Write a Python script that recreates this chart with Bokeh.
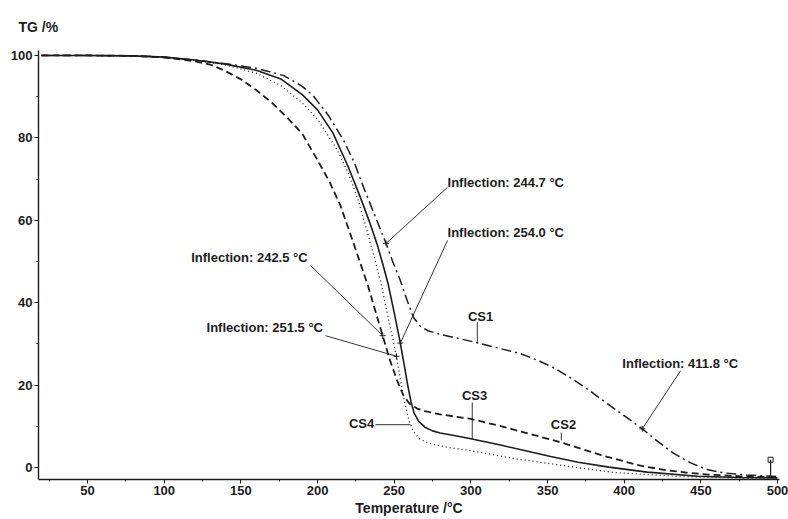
from bokeh.plotting import figure
from bokeh.models import Range1d, FixedTicker, ColumnDataSource
from bokeh.core.properties import value
from bokeh.embed import file_html
from bokeh.resources import INLINE

# ---------------- data ----------------
cs1_t = [20, 50, 80, 100, 120, 140, 160, 178, 190, 197, 207, 217, 224, 230, 237, 244.7, 249, 254, 258,
         262.6, 267, 272, 280, 290, 304, 320, 332, 345, 355, 365, 377, 389, 400, 411.8, 422, 432, 443,
         454, 465, 480, 500]
cs1_tg = [100, 100, 99.9, 99.6, 98.9, 98.0, 96.9, 95.1, 92.5, 90.3, 85.5, 79.4, 74, 68, 61.5, 54.4, 50,
          45.4, 41, 36.4, 34.3, 33.2, 32.3, 31.5, 30.3, 28.8, 27.7, 25.8, 24, 21.8, 18.8, 15.5, 12.6, 9.4,
          6.3, 3.5, 1.2, -0.5, -1.3, -1.8, -2.2]

cs2_t = [20, 50, 80, 100, 120, 130, 140, 150, 160, 170, 180, 190, 200, 208, 215, 222, 228, 233, 238,
         242.5, 247, 252, 256, 260, 265, 270, 280, 300, 320, 340, 356, 370, 385, 400, 410, 425, 440, 455,
         475, 500]
cs2_tg = [100, 100, 99.9, 99.5, 98.6, 97.8, 96.2, 94.2, 91.6, 88.6, 85.0, 81.0, 74.6, 69.2, 63.5, 56,
          49.5, 44, 37.6, 32.0, 26.3, 21, 17.5, 15.5, 14.3, 13.7, 12.9, 11.8, 10, 8, 6.4, 4.8, 3, 1.5,
          0.5, -0.5, -1.2, -1.7, -2.1, -2.4]

cs3_t = [20, 50, 80, 100, 120, 140, 160, 176, 190, 200, 210, 220, 228, 234, 239, 243, 246, 250, 254,
         257, 259, 261, 263, 266, 270, 275, 280, 290, 300, 320, 340, 352, 370, 390, 415, 448, 475, 500]
cs3_tg = [100, 100, 99.9, 99.6, 98.9, 97.9, 96.4, 94.3, 90.5, 86.8, 81.2, 73, 65.5, 59.5, 54.0, 48.8,
          44.6, 37.6, 30.2, 23.9, 19.6, 15.9, 13.2, 11.2, 9.8, 8.9, 8.4, 7.7, 7.0, 5.4, 3.7, 2.7, 1.3, 0.1,
          -1.1, -2.1, -2.4, -2.5]

cs4_t = [20, 50, 80, 100, 120, 140, 160, 176, 190, 200, 213, 220, 226, 233, 237, 241, 246, 251.5, 254,
         257, 260, 263, 267, 275, 285, 300, 328, 360, 393, 437, 470, 500]
cs4_tg = [100, 100, 99.9, 99.6, 98.9, 97.7, 95.7, 92.7, 88.5, 84.5, 77, 71.5, 65.5, 56.5, 51, 45.4,
          36.5, 27, 21.5, 15.5, 11, 8.5, 6.8, 5.6, 4.9, 4.1, 2.2, 0.5, -1.2, -2.2, -2.5, -2.6]

x_ticks = [50, 100, 150, 200, 250, 300, 350, 400, 450, 500]
x_minor = [25, 75, 125, 175, 225, 275, 325, 375, 425, 475]
y_ticks = [0, 20, 40, 60, 80, 100]
y_minor = [10, 30, 50, 70, 90]

ann_text = ["Inflection: 244.7 °C", "Inflection: 254.0 °C", "Inflection: 242.5 °C",
            "Inflection: 251.5 °C", "Inflection: 411.8 °C"]
ann_t = [284.8, 284.8, 117.6, 127.6, 398.8]
ann_tg = [69.2, 57.0, 51.0, 34.1, 25.2]
infl_t = [244.7, 254.0, 242.5, 251.5, 411.8]
infl_tg = [54.4, 30.2, 32.0, 27.0, 9.4]
lead_t = [284.8, 284.8, 195.5, 205.2, 436.8]
lead_tg = [68.0, 55.1, 49.0, 32.0, 23.5]

lab_text = ["CS1", "CS3", "CS2", "CS4"]
lab_t = [306.3, 302.4, 360.4, 228.7]
lab_tg = [36.7, 17.6, 10.4, 10.6]
lab_l_t0 = [304.2, 300.9, 359.0, 237.8]
lab_l_tg0 = [35.3, 15.8, 8.5, 10.4]
lab_l_t1 = [304.2, 300.9, 359.0, 260.7]
lab_l_tg1 = [30.3, 7.0, 6.6, 10.4]

end_t = [495.5]
end_tg0 = [-2.5]
end_tg1 = [1.9]

# ---------------- figure ----------------
INK = "#1c1c1c"
FONT = "Liberation Sans"

p = figure(width=788, height=519, x_range=Range1d(18, 501.3), y_range=Range1d(-2.9, 101.2),
           output_backend="svg", toolbar_location=None,
           min_border_left=38, min_border_right=9, min_border_top=50, min_border_bottom=40)
p.grid.visible = False
p.outline_line_color = None

p.title.text = "TG /%"
p.title.align = "left"
p.title.offset = -20
p.title.standoff = 32
p.title.text_font = FONT
p.title.text_font_style = "bold"
p.title.text_font_size = "14px"
p.title.text_color = INK

for ax in (p.xaxis[0], p.yaxis[0]):
    ax.axis_line_color = INK
    ax.axis_line_width = 1.4
    ax.major_tick_line_color = INK
    ax.minor_tick_line_color = INK
    ax.major_tick_in = 0
    ax.major_tick_out = 4
    ax.minor_tick_in = 0
    ax.minor_tick_out = 2
    ax.major_label_text_font = FONT
    ax.major_label_text_font_style = "bold"
    ax.major_label_text_font_size = "13px"
    ax.major_label_text_color = INK
    ax.major_label_standoff = 2

p.xaxis.ticker = FixedTicker(ticks=x_ticks, minor_ticks=x_minor)
p.yaxis.ticker = FixedTicker(ticks=y_ticks, minor_ticks=y_minor)
p.xaxis.axis_label = "Temperature /°C"
p.xaxis.axis_label_standoff = 2
p.xaxis.axis_label_text_font = FONT
p.xaxis.axis_label_text_font_style = "bold"
p.xaxis.axis_label_text_font_size = "14px"
p.xaxis.axis_label_text_color = INK

# curves
p.line(cs1_t, cs1_tg, line_color=INK, line_width=1.5, line_dash="10 4 2 4")
p.line(cs2_t, cs2_tg, line_color=INK, line_width=1.8, line_dash="7 4")
p.line(cs3_t, cs3_tg, line_color=INK, line_width=1.6)
p.line(cs4_t, cs4_tg, line_color=INK, line_width=1.3, line_dash="1 3")

# end marker
p.segment(x0=end_t, y0=end_tg0, x1=end_t, y1=end_tg1, line_color=INK, line_width=1.2)
p.scatter(x=end_t, y=end_tg1, marker="square", size=5, fill_color=None, line_color=INK, line_width=1)

# inflection annotations
p.segment(x0=lead_t, y0=lead_tg, x1=infl_t, y1=infl_tg, line_color=INK, line_width=0.9)
p.scatter(x=infl_t, y=infl_tg, marker="cross", size=6, line_color=INK, line_width=1)
src = ColumnDataSource(dict(x=ann_t, y=ann_tg, t=ann_text))
p.text(x="x", y="y", text="t", source=src, text_font=value(FONT), text_font_style="bold",
       text_font_size="13px", text_color=INK, text_align="left", text_baseline="middle")

# series labels
p.segment(x0=lab_l_t0, y0=lab_l_tg0, x1=lab_l_t1, y1=lab_l_tg1, line_color=INK, line_width=0.9)
src2 = ColumnDataSource(dict(x=lab_t, y=lab_tg, t=lab_text))
p.text(x="x", y="y", text="t", source=src2, text_font=value(FONT), text_font_style="bold",
       text_font_size="13px", text_color=INK, text_align="center", text_baseline="middle")

open("out.html", "w").write(file_html(p, INLINE))
